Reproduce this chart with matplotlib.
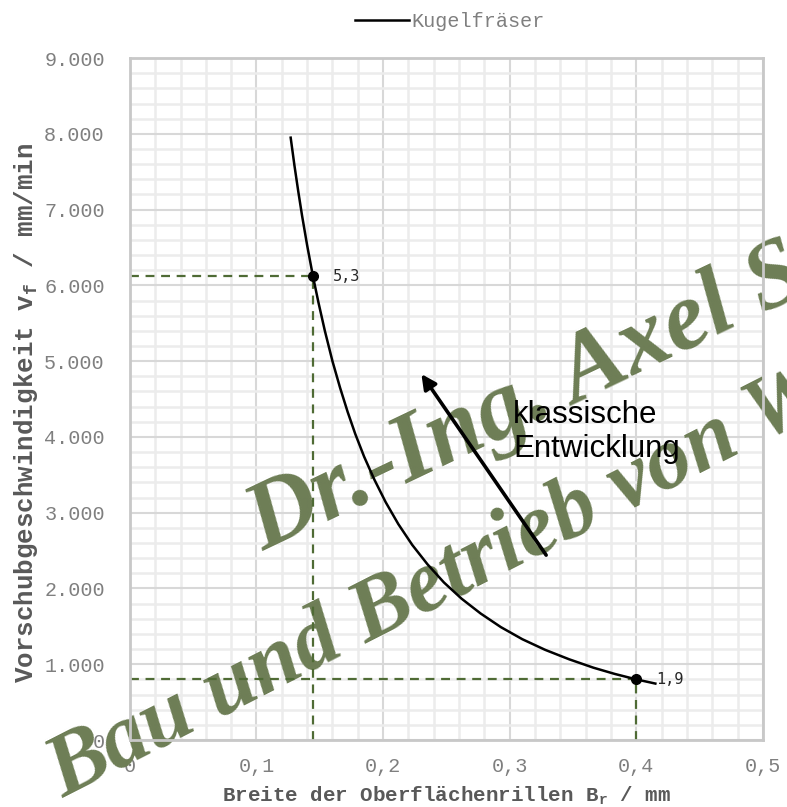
import matplotlib.pyplot as plt
from matplotlib.ticker import MultipleLocator, FuncFormatter

# Kugelfräser: Breite der Rillen (mm) vs Vorschub (mm/min)
breite = [0.127, 0.130, 0.133, 0.136, 0.140, 0.1446, 0.149, 0.154, 0.160, 0.166,
          0.172, 0.178, 0.185, 0.193, 0.202, 0.212, 0.223, 0.235, 0.248, 0.262,
          0.277, 0.293, 0.310, 0.328, 0.347, 0.366, 0.383, 0.400, 0.415]
vorschub = [7950, 7580, 7240, 6920, 6530, 6120, 5770, 5400, 5000, 4650,
            4330, 4040, 3740, 3440, 3140, 2850, 2575, 2320, 2080, 1865,
            1670, 1490, 1330, 1190, 1065, 955, 872, 800, 745]

punkte_x = [0.1446, 0.400]
punkte_y = [6120, 800]
punkte_label = ["5,3", "1,9"]

pfeil_start = (0.330, 2410)
pfeil_ende = (0.229, 4860)

mono = "Liberation Mono"
grau = "#7f7f7f"
gruen = "#4f6b35"
wz_gruen = "#6d7d55"

fig = plt.figure(figsize=(7.87, 8.07), dpi=100)
ax = fig.add_axes([0.165, 0.083, 0.8045, 0.845])

ax.set_xlim(0, 0.5)
ax.set_ylim(0, 9000)
ax.xaxis.set_major_locator(MultipleLocator(0.1))
ax.xaxis.set_minor_locator(MultipleLocator(0.02))
ax.yaxis.set_major_locator(MultipleLocator(1000))
ax.yaxis.set_minor_locator(MultipleLocator(200))
ax.xaxis.set_major_formatter(FuncFormatter(lambda v, p: "0" if v == 0 else f"{v:.1f}".replace(".", ",")))
ax.yaxis.set_major_formatter(FuncFormatter(lambda v, p: f"{int(v):,}".replace(",", ".")))

ax.grid(which="minor", color="#ececec", lw=1.8, zorder=0)
ax.grid(which="major", color="#d8d8d8", lw=1.5, zorder=0)
ax.set_axisbelow(True)
for s in ax.spines.values():
    s.set_color("#c8c8c8")
    s.set_linewidth(2)
ax.tick_params(which="both", length=0)
ax.tick_params(axis="y", pad=18, labelsize=14.5, labelcolor=grau)
ax.tick_params(axis="x", pad=12, labelsize=14.5, labelcolor=grau)
for lab in ax.get_xticklabels() + ax.get_yticklabels():
    lab.set_family(mono)

# gestrichelte Hilfslinien
for px, py in zip(punkte_x, punkte_y):
    ax.plot([0, px], [py, py], ls=(0, (4, 3)), color=gruen, lw=1.6, zorder=2)
    ax.plot([px, px], [0, py], ls=(0, (4, 3)), color=gruen, lw=1.6, zorder=2)

ax.plot(breite, vorschub, color="black", lw=1.8, zorder=3, label="Kugelfräser",
        solid_joinstyle="round")
ax.plot(punkte_x, punkte_y, "o", color="black", ms=7, zorder=4)
for px, py, t in zip(punkte_x, punkte_y, punkte_label):
    ax.annotate(t, (px, py), xytext=(14, 0), textcoords="offset points",
                va="center", ha="left", fontsize=11, family="DejaVu Sans Mono", color="#262626")

ax.annotate("", xy=pfeil_ende, xytext=pfeil_start,
            arrowprops=dict(arrowstyle="-|>", color="black", lw=2.6, mutation_scale=22), zorder=5)
ax.text(0.3025, 4490, "klassische\nEntwicklung", fontsize=22.5, family="Liberation Sans",
        va="top", ha="left", linespacing=1.2, zorder=5)

ax.set_xlabel("Breite der Oberflächenrillen B$_\\mathregular{r}$ / mm", family=mono,
              fontweight="bold", fontsize=15, color="#595959", labelpad=6)
ax.set_ylabel("Vorschubgeschwindigkeit v$_\\mathregular{f}$ / mm/min", family=mono,
              fontweight="bold", fontsize=18.6, color="#595959")
ax.yaxis.set_label_coords(-0.142, 0.48)

leg = fig.legend(loc="upper center", bbox_to_anchor=(0.572, 1.008), frameon=False,
                 prop={"family": mono, "size": 14.5}, handlelength=2.65, handletextpad=0.15)
for t in leg.get_texts():
    t.set_color(grau)

# Wasserzeichen (über dem Gitter, unter den Daten)
ax.text(0.335, 0.316, "Dr.-Ing. Axel S", transform=fig.transFigure, clip_on=False,
        fontsize=70, family="Liberation Serif", style="italic", fontweight="bold",
        color=wz_gruen, rotation=25.5, rotation_mode="anchor", ha="left", va="baseline", zorder=1)
ax.text(0.08, 0.012, "Bau und Betrieb von We", transform=fig.transFigure, clip_on=False,
        fontsize=64, family="Liberation Serif", style="italic", fontweight="bold",
        color=wz_gruen, rotation=27, rotation_mode="anchor", ha="left", va="baseline", zorder=1)

fig.savefig("out.png", dpi=100)
